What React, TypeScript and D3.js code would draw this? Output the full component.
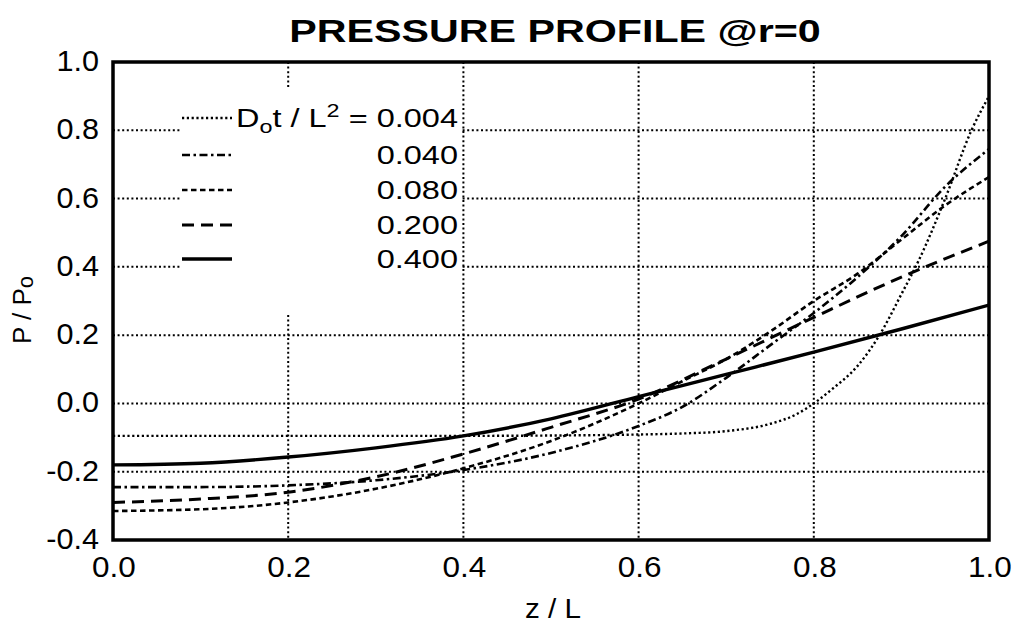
import React from "react";
import * as d3 from "d3";

const W = 1017;
const H = 633;
const SX = 1.3; // horizontal stretch of the original lettering
const FONT = "'Liberation Sans', Arial, Helvetica, sans-serif";

const xTicks = [0, 0.2, 0.4, 0.6, 0.8, 1.0];
const yTicks = [-0.4, -0.2, 0, 0.2, 0.4, 0.6, 0.8, 1.0];
const xGrid = [0.2, 0.4, 0.6, 0.8];
const yGrid = [-0.2, 0, 0.2, 0.4, 0.6, 0.8];

const legendLabels = ["0.004", "0.040", "0.080", "0.200", "0.400"];

const z004 = [0, 0.2, 0.4, 0.5, 0.6, 0.65, 0.7, 0.75, 0.78, 0.8, 0.82, 0.85, 0.875, 0.9, 0.92, 0.95, 0.98, 1.0];
const p004 = [-0.095, -0.095, -0.095, -0.094, -0.091, -0.088, -0.081, -0.06, -0.032, 0.0, 0.04, 0.11, 0.2, 0.32, 0.42, 0.6, 0.8, 0.9];

const z040 = [0, 0.1, 0.2, 0.3, 0.4, 0.5, 0.6, 0.65, 0.7, 0.75, 0.8, 0.85, 0.9, 0.95, 1.0];
const p040 = [-0.245, -0.245, -0.24, -0.225, -0.195, -0.145, -0.066, -0.01, 0.075, 0.17, 0.265, 0.37, 0.49, 0.635, 0.745];

const z080 = [0, 0.1, 0.2, 0.3, 0.4, 0.5, 0.6, 0.65, 0.7, 0.75, 0.8, 0.85, 0.9, 0.95, 1.0];
const p080 = [-0.315, -0.31, -0.29, -0.25, -0.19, -0.11, 0.0, 0.065, 0.13, 0.21, 0.3, 0.38, 0.48, 0.58, 0.663];

const z200 = [0, 0.1, 0.2, 0.3, 0.4, 0.5, 0.6, 0.7, 0.8, 0.9, 1.0];
const p200 = [-0.29, -0.28, -0.26, -0.215, -0.148, -0.07, 0.013, 0.13, 0.252, 0.37, 0.475];

const z400 = [0, 0.1, 0.2, 0.3, 0.4, 0.5, 0.6, 0.7, 0.8, 0.9, 1.0];
const p400 = [-0.18, -0.175, -0.157, -0.13, -0.095, -0.045, 0.02, 0.085, 0.15, 0.218, 0.288];

const seriesZ = [z004, z040, z080, z200, z400];
const seriesP = [p004, p040, p080, p200, p400];
const seriesDash = ["2.2,2.6", "8,3.5,2.5,3.5", "5.5,3.5", "12,7", null];
const seriesWidth = [2.4, 2.6, 2.6, 3, 3.4];

const PL = 113, PR = 989, PT = 62, PB = 540;

function T({ x, y, anchor = "middle", size = 25, weight = "normal", sx = SX, children }: any) {
  return (
    <text
      transform={`translate(${x},${y}) scale(${sx},1)`}
      textAnchor={anchor}
      fontSize={size}
      fontWeight={weight}
      fontFamily={FONT}
      fill="#000"
    >
      {children}
    </text>
  );
}

const fmt = (t: number) => t.toFixed(1);

export default function App() {
  const x = d3.scaleLinear().domain([0, 1]).range([PL, PR]);
  const y = d3.scaleLinear().domain([-0.4, 1.0]).range([PB, PT]);
  const line = d3
    .line<[number, number]>()
    .x((d) => x(d[0]))
    .y((d) => y(d[1]))
    .curve(d3.curveMonotoneX);

  const gridStyle = { stroke: "#000", strokeWidth: 2, strokeDasharray: "2,2.6" };

  const legX0 = 182, legX1 = 232, legTextX = 458;
  const legBase = [127, 164, 199, 234, 268];

  return (
    <svg
      width={W}
      height={H}
      style={{ position: "absolute", left: 0, top: 0, background: "#fff" }}
    >
      <rect x={0} y={0} width={W} height={H} fill="#fff" />
      {/* grid */}
      {xGrid.map((g) => (
        <line key={"xg" + g} x1={x(g)} x2={x(g)} y1={PT} y2={PB} {...gridStyle} />
      ))}
      {yGrid.map((g) => (
        <line key={"yg" + g} x1={PL} x2={PR} y1={y(g)} y2={y(g)} {...gridStyle} />
      ))}
      {/* legend background */}
      <rect x={180} y={88} width={282} height={226} fill="#fff" />

      <defs>
        <clipPath id="clip">
          <rect x={PL} y={PT} width={PR - PL} height={PB - PT} />
        </clipPath>
      </defs>
      {/* curves */}
      <g clipPath="url(#clip)">
        {seriesZ.map((zs, i) => (
          <path
            key={"s" + i}
            d={line(zs.map((z, j) => [z, seriesP[i][j]]) as [number, number][]) || ""}
            fill="none"
            stroke="#000"
            strokeWidth={seriesWidth[i]}
            strokeDasharray={seriesDash[i] || undefined}
          />
        ))}
      </g>

      {/* frame */}
      <rect x={PL} y={PT} width={PR - PL} height={PB - PT} fill="none" stroke="#000" strokeWidth={3.5} />

      {/* legend */}
      {legendLabels.map((lab, i) => (
        <g key={"l" + i}>
          <line
            x1={legX0}
            x2={legX1}
            y1={legBase[i] - 9}
            y2={legBase[i] - 9}
            stroke="#000"
            strokeWidth={seriesWidth[i]}
            strokeDasharray={seriesDash[i] || undefined}
          />
          {i === 0 ? (
            <T x={legTextX} y={legBase[i]} anchor="end">
              D<tspan fontSize={18} dy={6}>o</tspan>
              <tspan dy={-6}>t / L</tspan>
              <tspan fontSize={18} dy={-10}>2</tspan>
              <tspan dy={10}> = {lab}</tspan>
            </T>
          ) : (
            <T x={legTextX} y={legBase[i]} anchor="end">
              {lab}
            </T>
          )}
        </g>
      ))}

      {/* y tick labels */}
      {yTicks.map((t) => (
        <T key={"yt" + t} x={99} y={y(t) + 9} anchor="end" size={30} sx={1.02}>
          {fmt(t)}
        </T>
      ))}
      {/* x tick labels */}
      {xTicks.map((t) => (
        <T key={"xt" + t} x={x(t) + 1} y={577} anchor="middle" size={30} sx={1.05}>
          {fmt(t)}
        </T>
      ))}

      {/* title */}
      <T x={555} y={42} anchor="middle" size={31} weight="bold" sx={1.33}>
        PRESSURE PROFILE @r=0
      </T>

      {/* axis labels */}
      <T x={553} y={618} anchor="middle" size={27} sx={1.1}>
        z / L
      </T>
      <text
        transform={`translate(31,${310}) rotate(-90)`}
        textAnchor="middle"
        fontSize={26}
        fontFamily={FONT}
        fill="#000"
      >
        P / P<tspan fontSize={22} dy={2}>o</tspan>
      </text>
    </svg>
  );
}
